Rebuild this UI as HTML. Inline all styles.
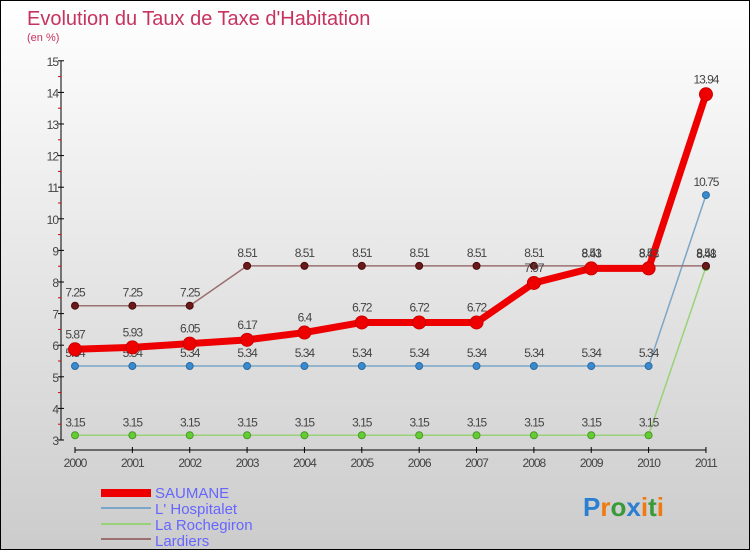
<!DOCTYPE html>
<html><head><meta charset="utf-8"><style>
html,body{margin:0;padding:0}
body{width:750px;height:550px;overflow:hidden;font-family:"Liberation Sans",sans-serif}
#wrap{position:relative;width:748px;height:548px;border:1px solid #000;background:linear-gradient(#fff,#ccc)}
</style></head><body>
<div id="wrap">
<svg id="chart" width="748" height="548" style="position:absolute;left:0;top:0">
<text x="26" y="24" font-size="20" fill="#c8325f">Evolution du Taux de Taxe d'Habitation</text>
<text x="26" y="40" font-size="11" fill="#c8325f">(en %)</text>
<g id="axes"></g>
<g id="series"></g>
<g font-size="15" fill="#6666ff">
<rect x="100" y="488" width="50" height="8" fill="#e00"/>
<text x="154" y="497">SAUMANE</text>
<rect x="100" y="506" width="50" height="2" fill="#7aa6c8"/>
<text x="154" y="513">L' Hospitalet</text>
<rect x="100" y="522" width="50" height="2" fill="#99d277"/>
<text x="154" y="529">La Rochegiron</text>
<rect x="100" y="537" width="50" height="2" fill="#9a7070"/>
<text x="154" y="545">Lardiers</text>
</g>
<text x="582" y="515" font-size="26" font-weight="bold"><tspan fill="#2a7fd0">P</tspan><tspan fill="#f07a10">r</tspan><tspan fill="#3a9a3a">o</tspan><tspan fill="#2a7fd0">x</tspan><tspan fill="#f07a10">i</tspan><tspan fill="#3a9a3a">t</tspan><tspan fill="#f07a10">i</tspan></text>
</svg>
</div>
<script>
const years=[2000,2001,2002,2003,2004,2005,2006,2007,2008,2009,2010,2011];
const saumane=[5.87,5.93,6.05,6.17,6.4,6.72,6.72,6.72,7.97,8.43,8.43,13.94];
const hospitalet=[5.34,5.34,5.34,5.34,5.34,5.34,5.34,5.34,5.34,5.34,5.34,10.75];
const rochegiron=[3.15,3.15,3.15,3.15,3.15,3.15,3.15,3.15,3.15,3.15,3.15,8.48];
const lardiers=[7.25,7.25,7.25,8.51,8.51,8.51,8.51,8.51,8.51,8.51,8.51,8.51];
const yTicks=[3,4,5,6,7,8,9,10,11,12,13,14,15];
const NS="http://www.w3.org/2000/svg";
const X=i=>74+i*57.36, Y=v=>439-(v-3)*31.6;
function mk(tag,attrs,parent){const e=document.createElementNS(NS,tag);for(const k in attrs)e.setAttribute(k,attrs[k]);parent.appendChild(e);return e;}
const ax=document.getElementById('axes'), sg=document.getElementById('series');
let l=mk('line',{x1:60,y1:Y(15),x2:60,y2:Y(3),stroke:'#000'},ax);


l=mk('line',{x1:X(0),y1:449,x2:X(11),y2:449,stroke:'#000'},ax);


yTicks.forEach((v,i)=>{
 mk('line',{x1:57,y1:Y(v),x2:63,y2:Y(v),stroke:'#000'},ax);
 if(i<yTicks.length-1)mk('line',{x1:57,y1:Y(v+0.5),x2:60,y2:Y(v+0.5),stroke:'#d00'},ax);
 const t=mk('text',{x:57,y:Y(v)+5,'font-size':12,fill:'#444','text-anchor':'end','letter-spacing':'-1'},ax);
 t.textContent=v;
 
 
});
years.forEach((y,i)=>{
 mk('line',{x1:X(i),y1:446,x2:X(i),y2:452,stroke:'#000'},ax);
 const t=mk('text',{x:X(i),y:466,'font-size':12,fill:'#444','text-anchor':'middle','letter-spacing':'-1'},ax);
 t.textContent=y;
 
 
});
function draw(vals,name,color,w,r,dot,dotStroke){
 const g=mk('g',{},sg);
 
 
 const p=mk('polyline',{points:vals.map((v,i)=>X(i)+','+Y(v)).join(' '),fill:'none',stroke:color,'stroke-width':w,'stroke-linejoin':'round'},g);
 
 
 vals.forEach((v,i)=>{
  const c=mk('circle',{cx:X(i),cy:Y(v),r:r,fill:dot,stroke:dotStroke,'stroke-width':1},g);
  
  
  const t=mk('text',{x:X(i),y:Y(v)-9-(r>4?2:0),'font-size':12,fill:'#444','text-anchor':'middle','letter-spacing':'-1'},g);
  t.textContent=v;
  
  
 });
}
draw(rochegiron,'rochegiron','#99d277',1.5,3.5,'#66cc33','#4a9a2a');
draw(hospitalet,'hospitalet','#7aa6c8',1.5,3.5,'#3a8ad0','#2a6aa0');
draw(lardiers,'lardiers','#9a7070',1.5,3.5,'#6a1a1a','#4a0a0a');
draw(saumane,'saumane','#ee0000',7,6.5,'#ee0000','#cc0000');
</script>
</body></html>
